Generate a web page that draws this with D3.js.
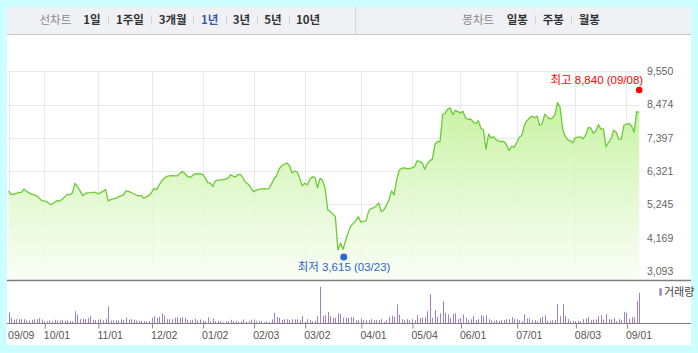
<!DOCTYPE html>
<html><head><meta charset="utf-8">
<script src="https://cdn.jsdelivr.net/npm/d3@7"></script>
<style>html,body{margin:0;padding:0;background:#ccffff;overflow:hidden}</style>
</head><body><svg id="c" width="698" height="353"></svg>
<script>
// ---- data (daily close, 2019-09-09 .. 2020-09-08, trading-day index) ----
const prices = [
5685,5570,5570,5605,5625,5635,5735,5670,5620,5580,
5555,5525,5450,5370,5360,5330,5265,5250,5310,5370,
5345,5410,5490,5570,5555,5620,5930,5815,5685,5525,
5590,5620,5625,5635,5635,5590,5620,5670,5735,5360,
5400,5425,5440,5490,5525,5555,5685,5670,5625,5590,
5550,5525,5535,5450,5490,5540,5625,5770,5720,5880,
6010,6090,6150,6170,6180,6170,6170,6235,6310,6250,
6155,6120,6170,6235,6230,6240,6220,6105,5950,5935,
5825,6010,6030,6040,6050,6060,6105,6205,6155,6140,
6220,6205,6075,5945,5895,5765,5660,5710,5735,5750,
5750,5745,5760,5910,6075,6180,6400,6495,6545,6585,
6505,6260,6325,6300,6105,5845,5930,5880,6060,6140,
6120,5780,6090,6025,5750,5070,5015,4940,4845,3775,
4000,3790,4080,4325,4550,4630,4715,4850,4670,4695,
4715,5020,5120,5135,5200,5295,5005,5075,5215,5395,
5685,5555,6040,6350,6415,6430,6400,6405,6425,6465,
6655,6640,6590,6380,6560,6655,6710,7190,7275,7280,
8145,8195,8325,8365,8145,8285,8245,8205,8255,8035,
8000,8005,7905,7855,7955,7710,7660,7035,7515,7395,
7435,7330,7295,7280,7285,7175,6990,7125,7100,7240,
7420,7475,7790,7955,8030,8105,8050,8100,7800,7855,
8165,8085,8010,8035,8145,8535,8390,7695,7450,7335,
7300,7240,7400,7420,7425,7365,7485,7725,7720,7550,
7615,7825,7680,7690,7110,7255,7370,7645,7580,7355,
7360,7805,7845,7860,7780,7575,8245,8220];
const volumes = [
1130,570,400,430,430,430,430,300,300,370,
430,430,530,400,230,230,300,230,370,300,
300,370,300,300,230,230,1230,900,430,470,
430,530,730,370,330,370,430,330,430,1730,
300,330,330,300,430,330,600,400,430,400,
300,270,270,230,230,230,570,730,570,670,
1000,800,430,430,430,570,630,570,630,570,
370,300,370,470,300,400,300,230,630,230,
530,230,270,230,130,200,230,370,230,230,
170,200,400,200,230,370,400,200,230,230,
130,200,130,400,1070,630,570,370,430,430,
370,430,400,430,300,730,170,430,370,230,
300,730,3670,770,830,1130,730,570,570,1000,
970,570,570,570,630,630,330,330,500,330,
330,330,430,330,330,330,430,170,330,670,
770,670,1900,900,430,330,430,330,430,330,
830,570,570,670,1230,2930,570,1330,670,1000,
2230,1070,900,570,970,1030,430,570,900,570,
330,430,730,330,430,830,730,830,430,330,
230,330,270,330,330,430,430,630,430,430,
330,230,930,500,500,330,330,230,570,670,
830,270,270,330,330,1930,730,1930,730,430,
230,270,230,270,230,430,500,630,330,400,
400,730,830,400,930,430,400,570,230,430,
330,1170,1100,470,630,630,2270,3070];
const xTickLabels = ["09/09","10/01","11/01","12/02","01/02","02/03","03/02","04/01","05/04","06/01","07/01","08/03","09/01"];
const xTickIndex  = [0,14,35,56,76,96,116,138,158,177,199,222,242];
const yTicks = [3093,4169,5245,6321,7397,8474,9550];
const highPoint = {value:8840, index:247, date:"09/08", label:"최고"};
const lowPoint  = {value:3615, index:131, date:"03/23", label:"최저"};
const lineMenuTitle = "선차트";
const lineMenu = ["1일","1주일","3개월","1년","3년","5년","10년"];
const candleMenuTitle = "봉차트";
const candleMenu = ["일봉","주봉","월봉"];
const volumeLegend = "거래량";

// ---- layout ----
const svg = d3.select("#c");
const FONT = "'Liberation Sans','Noto Sans CJK KR',sans-serif";
const KFONT = "'Noto Sans CJK KR','Liberation Sans',sans-serif";
const N = prices.length;
const x = d3.scaleLinear().domain([0, N-1]).range([8.56, 639.2]);
const y = d3.scaleLinear().domain([3093, 9550]).range([271, 71.3]);
const priceBottom = 280;
const volBase = 323.5;
const yv = d3.scaleLinear().domain([0, 4000]).range([volBase, volBase-40]);

svg.append("rect").attr("width",698).attr("height",353).attr("fill","#ccffff");
svg.append("rect").attr("x",7).attr("y",7).attr("width",684).attr("height",338).attr("fill","#fff");

// header
svg.append("rect").attr("x",7).attr("y",7).attr("width",684).attr("height",27).attr("fill","#f0f1f5");
svg.append("line").attr("x1",7).attr("x2",691).attr("y1",34.5).attr("y2",34.5).attr("stroke","#c7c8cd");
svg.append("line").attr("x1",355.5).attr("x2",355.5).attr("y1",7).attr("y2",34).attr("stroke","#d6d7dc");
const hdrY = 24;
svg.append("text").attr("x",39.5).attr("y",hdrY).text(lineMenuTitle)
  .attr("font-family",KFONT).attr("font-size",11.5).attr("fill","#8a8a8a");
const lineX = [83.3,116,158.7,201,232.7,264.3,296];
const lineSep = [108.5,151.5,193.5,226.5,257.5,289.5];
lineMenu.forEach((t,i)=>{
  svg.append("text").attr("x",lineX[i]).attr("y",hdrY).text(t)
    .attr("font-family",KFONT).attr("font-size",11.5).attr("font-weight","bold")
    .attr("fill", t==="1년" ? "#3b56ad" : "#333");
});
lineSep.forEach(s=>svg.append("line").attr("x1",s).attr("x2",s).attr("y1",15).attr("y2",25).attr("stroke","#d4d4d4"));
svg.append("text").attr("x",462.3).attr("y",hdrY).text(candleMenuTitle)
  .attr("font-family",KFONT).attr("font-size",11.5).attr("fill","#8a8a8a");
const candleX = [506.7,542.7,578.7];
candleMenu.forEach((t,i)=>{
  svg.append("text").attr("x",candleX[i]).attr("y",hdrY).text(t)
    .attr("font-family",KFONT).attr("font-size",11.5).attr("font-weight","bold").attr("fill","#333");
});
[535.5,571.5].forEach(s=>svg.append("line").attr("x1",s).attr("x2",s).attr("y1",15).attr("y2",25).attr("stroke","#d4d4d4"));

// gridlines
const grid = svg.append("g").attr("stroke","#e9e9e9").attr("stroke-width",1);
yTicks.forEach(v=>grid.append("line").attr("x1",7).attr("x2",x(N-1)+1).attr("y1",Math.round(y(v))+0.5).attr("y2",Math.round(y(v))+0.5));
xTickIndex.forEach(i=>grid.append("line").attr("x1",Math.round(x(i))+0.5).attr("x2",Math.round(x(i))+0.5).attr("y1",y(9550)).attr("y2",priceBottom));

// area + line
const defs = svg.append("defs");
const grad = defs.append("linearGradient").attr("id","g").attr("gradientUnits","userSpaceOnUse")
  .attr("x1",0).attr("x2",0).attr("y1",100).attr("y2",priceBottom);
grad.append("stop").attr("offset","0%").attr("stop-color","#c1f197");
grad.append("stop").attr("offset","55%").attr("stop-color","#e2f8cf");
grad.append("stop").attr("offset","100%").attr("stop-color","#fafef6");
const area = d3.area().x((d,i)=>x(i)).y0(priceBottom).y1(d=>y(d));
svg.append("path").datum(prices).attr("d",area).attr("fill","url(#g)").attr("fill-opacity",0.9);
const line = d3.line().x((d,i)=>x(i)).y(d=>y(d));
svg.append("path").datum(prices).attr("d",line).attr("fill","none").attr("stroke","#6acb35").attr("stroke-width",1.3).attr("stroke-linejoin","round");

// y axis labels
const yAxis = svg.append("g").attr("transform","translate(647,0)")
  .call(d3.axisRight(y).tickValues(yTicks).tickSize(0).tickPadding(0).tickFormat(d3.format(",")));
yAxis.select(".domain").remove();
yAxis.selectAll("text").attr("font-family",FONT).attr("font-size",10.5).attr("fill","#666");

// separators
svg.append("line").attr("x1",7).attr("x2",691).attr("y1",280.5).attr("y2",280.5).attr("stroke","#7d7d7d").attr("stroke-width",1.3);

// volume bars
svg.append("g").selectAll("rect").data(volumes).join("rect")
  .attr("x",(d,i)=>Math.round(x(i)))
  .attr("y",d=>yv(d)).attr("width",1).attr("height",d=>volBase-yv(d))
  .attr("fill","#9a80cd");
svg.append("line").attr("x1",7).attr("x2",691).attr("y1",volBase).attr("y2",volBase).attr("stroke","#7d7d7d");

// x axis
const xAxis = svg.append("g").attr("transform",`translate(0,${volBase})`)
  .call(d3.axisBottom(x).tickValues(xTickIndex).tickSize(5).tickPadding(3).tickFormat((d,i)=>xTickLabels[i]));
xAxis.select(".domain").remove();
xAxis.selectAll(".tick line").attr("stroke","#8a8a8a").attr("transform","translate(0.5,0)")
  .filter(d=>d===0).remove();
xAxis.selectAll("text").attr("text-anchor","start").attr("x",-1)
  .attr("font-family",FONT).attr("font-size",10.5).attr("fill","#555");

// volume legend
svg.append("rect").attr("x",659.3).attr("y",288.3).attr("width",2.5).attr("height",7.4).attr("fill","#9a80cd");
svg.append("text").attr("x",664).attr("y",296.2).text(volumeLegend)
  .attr("font-family",KFONT).attr("font-size",11).attr("fill","#444");

// high / low annotations
const fmt = d3.format(",");
svg.append("circle").attr("cx",x(highPoint.index)).attr("cy",y(highPoint.value)-3.3).attr("r",3.3).attr("fill","#ff0000");
svg.append("text").attr("x",x(highPoint.index)+4).attr("y",84)
  .attr("text-anchor","end").attr("font-family",FONT).attr("font-size",11.5).attr("fill","#ff0000")
  .text(`${highPoint.label} ${fmt(highPoint.value)} (${highPoint.date})`);
svg.append("circle").attr("cx",x(lowPoint.index)+0.7).attr("cy",y(lowPoint.value)+2.2).attr("r",3.5).attr("fill","#2a6ad8");
svg.append("text").attr("x",x(lowPoint.index)+1).attr("y",271)
  .attr("text-anchor","middle").attr("font-family",FONT).attr("font-size",11.5).attr("fill","#2a63c9")
  .text(`${lowPoint.label} ${fmt(lowPoint.value)} (${lowPoint.date})`);
</script></body></html>
